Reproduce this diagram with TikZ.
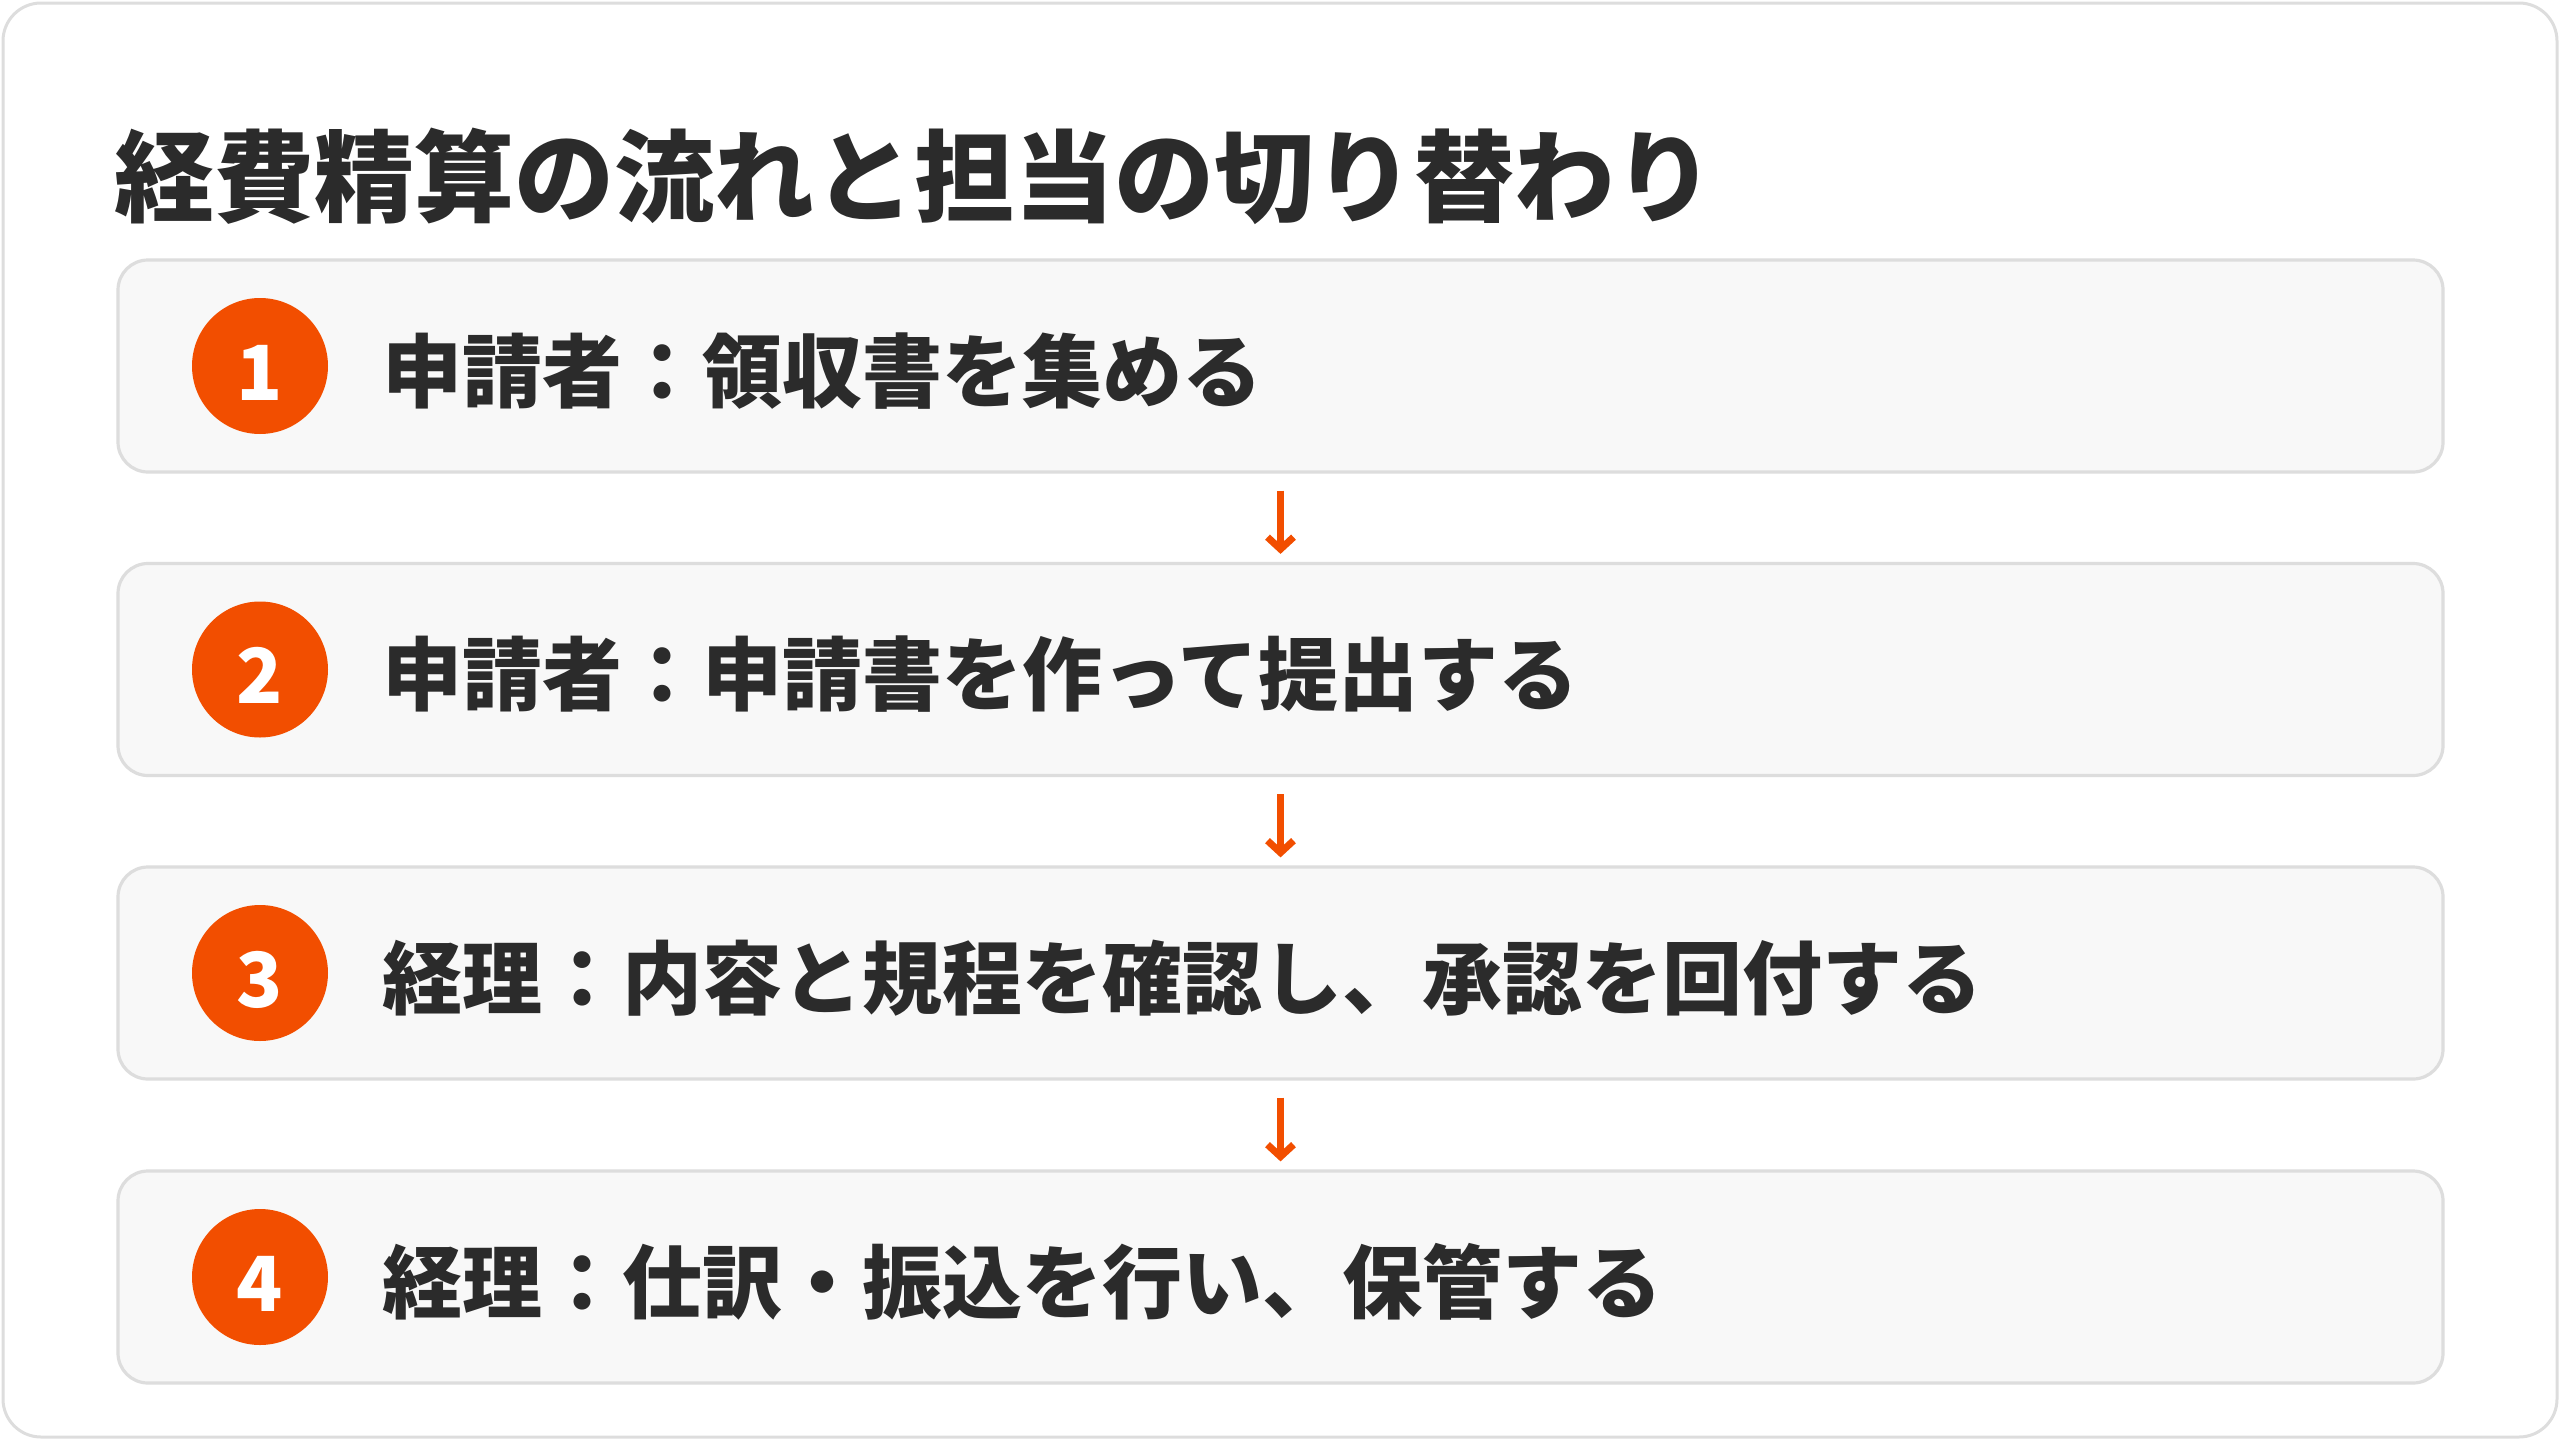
\documentclass[tikz,border=0pt]{standalone}
\usepackage{fontspec}
\setmainfont{Noto Sans CJK JP}
\usetikzlibrary{arrows.meta}
\definecolor{ink}{HTML}{2B2B2B}
\definecolor{accent}{HTML}{F24E00}
\definecolor{boxfill}{HTML}{F8F8F8}
\definecolor{boxline}{HTML}{DDDDDD}
\tikzset{
  frame/.style={draw=boxline, line width=1.5pt, rounded corners=19pt, fill=white},
  stepbox/.style={draw=boxline, line width=1.6pt, fill=boxfill, rounded corners=15pt,
    minimum width=1162.5pt, minimum height=106pt, inner sep=0pt},
  badge/.style={circle, fill=accent, minimum size=68pt, inner sep=0pt},
  num/.style={text=white, font=\bfseries\fontsize{38pt}{38pt}\selectfont, inner sep=0pt, anchor=base},
  steptext/.style={text=ink, font=\bfseries\fontsize{40pt}{40pt}\selectfont, inner sep=0pt, anchor=base west},
  titletext/.style={text=ink, font=\bfseries\fontsize{50pt}{50pt}\selectfont, inner sep=0pt, anchor=base west},
  flow/.style={draw=accent, line width=3.5pt, -{Straight Barb[length=6pt,width=13pt]}}
}
\begin{document}
\begin{tikzpicture}[x=0.5pt,y=-0.5pt]
\useasboundingbox (0,0) rectangle (2560,1440);
\draw[frame] (3,3) rectangle (2557,1437);
\node[titletext] (title) at (114,214) {経費精算の流れと担当の切り替わり};

\node[stepbox] (b1) at (1280.5,366) {};
\node[stepbox] (b2) at (1280.5,669.5) {};
\node[stepbox] (b3) at (1280.5,973) {};
\node[stepbox] (b4) at (1280.5,1277) {};

\node[badge] (c1) at (260,366) {};
\node[badge] (c2) at (260,669.5) {};
\node[badge] (c3) at (260,973) {};
\node[badge] (c4) at (260,1277) {};

\node[num] (n1) at (260,400) {1};
\node[num] (n2) at (260,703.5) {2};
\node[num] (n3) at (260,1007) {3};
\node[num] (n4) at (260,1311) {4};

\node[steptext] (t1) at (382,401) {申請者：領収書を集める};
\node[steptext] (t2) at (382,704.5) {申請者：申請書を作って提出する};
\node[steptext] (t3) at (382,1008) {経理：内容と規程を確認し、承認を回付する};
\node[steptext] (t4) at (382,1312) {経理：仕訳・振込を行い、保管する};

\draw[flow] ([yshift=-8.5pt]b1.south) -- ([yshift=4pt]b2.north);
\draw[flow] ([yshift=-8.5pt]b2.south) -- ([yshift=4pt]b3.north);
\draw[flow] ([yshift=-8.5pt]b3.south) -- ([yshift=4pt]b4.north);
\end{tikzpicture}
\end{document}
